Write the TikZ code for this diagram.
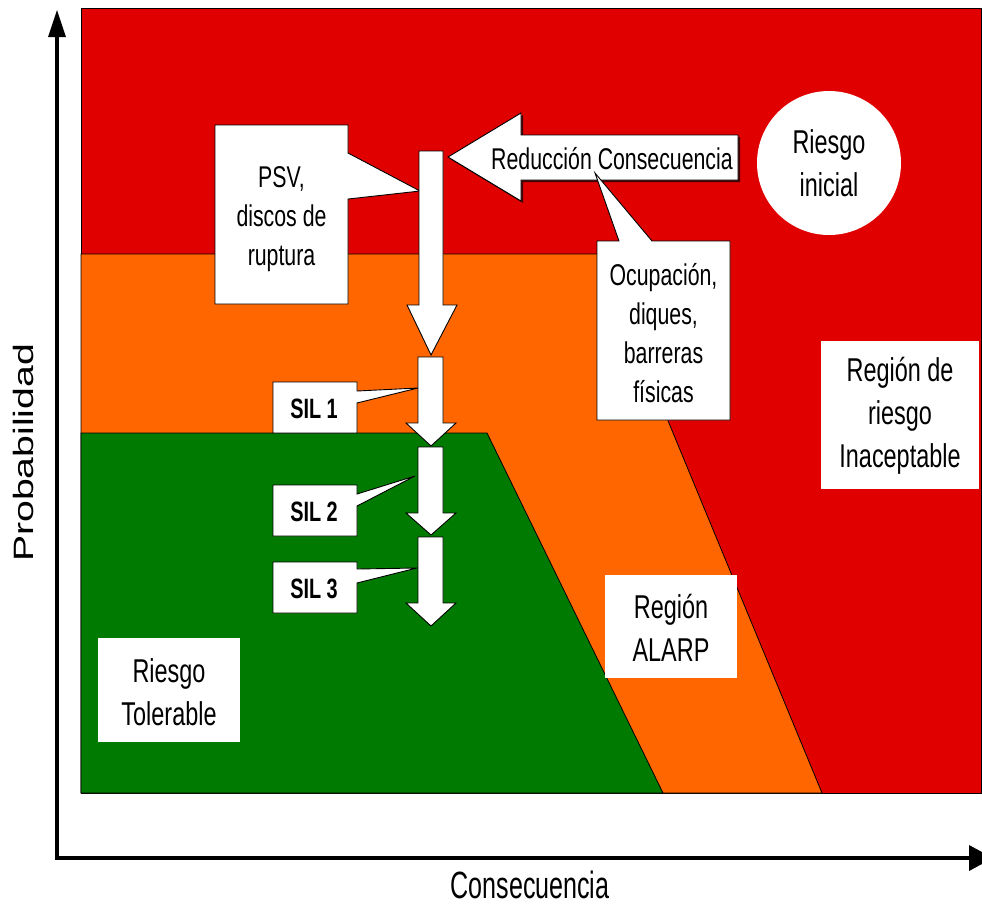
\documentclass[tikz,border=0pt]{standalone}
\usepackage{fontspec}
\setmainfont{Liberation Sans}
\newfontfamily\nar{Liberation Sans}[FakeStretch=0.71]
\newfontfamily\narx{Liberation Sans}[FakeStretch=0.66]
\newfontfamily\wid{Liberation Sans}[FakeStretch=1.4]
\definecolor{rred}{RGB}{224,0,0}
\definecolor{orng}{RGB}{255,102,0}
\definecolor{grn}{RGB}{0,122,0}
\tikzset{
  region/.style={draw=black, line width=0.8pt},
  wbox/.style={fill=white, draw=black, line width=0.9pt, line join=miter},
  bigtxt/.style={font=\nar\fontsize{33}{43}\selectfont, align=center, inner sep=0pt},
  midtxt/.style={font=\nar\fontsize{30}{39}\selectfont, align=center, inner sep=0pt},
  siltxt/.style={font=\nar\bfseries\fontsize{28}{34}\selectfont, inner sep=0pt},
  axis/.style={line width=4pt},
  axhead/.style={fill=black},
}
\begin{document}
\begin{tikzpicture}[x=1pt,y=-1pt]
\useasboundingbox (0,0) rectangle (982,906);
% regions
\fill[rred, region] (81,8) rectangle (981,793);
\fill[orng, region] (81,254) -- (599,254) -- (822,793) -- (81,793) -- cycle;
\fill[grn, region] (81,433) -- (487,433) -- (663,793) -- (81,793) -- cycle;
% axes
\coordinate (o) at (57,858);
\coordinate (ytop) at (57,37);
\coordinate (xend) at (969,858);
\draw[axis] (57,860) -- (ytop);
\draw[axis] (55,858) -- (xend);
\fill[axhead] (48,37) -- (66,37) -- (57,10) -- cycle;
\fill[axhead] (969,845) -- (969,871) -- (993,858) -- cycle;
\node[font=\wid\fontsize{28}{34}\selectfont, rotate=90, anchor=base, inner sep=0pt] (ylab) at (33,453) {Probabilidad};
\node[font=\narx\fontsize{38}{46}\selectfont, anchor=base, inner sep=0pt] (xlab) at (530,898) {Consecuencia};
% initial risk circle
\node[circle, fill=white, minimum size=144pt, inner sep=0pt] (ini) at (829,163) {};
\node[bigtxt] (initxt) at (829,163) {Riesgo\\inicial};
% region labels
\fill[white] (821,341) rectangle (979,489);
\node[bigtxt] (inac) at (900,416) {Región de\\riesgo\\Inaceptable};
\fill[white] (605,575) rectangle (737,678);
\node[bigtxt] (alarp) at (671,628) {Región\\ALARP};
\fill[white] (98,638) rectangle (240,742);
\node[bigtxt] (tol) at (169,692) {Riesgo\\Tolerable};
% PSV callout
\draw[wbox] (215,125) -- (348,125) -- (348,153) -- (420,191) -- (348,199) -- (348,304) -- (215,304) -- cycle;
\node[midtxt] (psv) at (281.5,219) {PSV,\\discos de\\ruptura};
% SIL callouts
\draw[wbox] (273,382) -- (357,382) -- (357,391) -- (418,388) -- (357,403) -- (357,433) -- (273,433) -- cycle;
\draw[wbox] (273,485) -- (357,485) -- (357,494) -- (415,476) -- (357,506) -- (357,536) -- (273,536) -- cycle;
\draw[wbox] (273,562) -- (357,562) -- (357,569) -- (417,568) -- (357,583) -- (357,613) -- (273,613) -- cycle;
\node[siltxt, anchor=base] (sil1) at (314,418) {SIL 1};
\node[siltxt, anchor=base] (sil2) at (314,521) {SIL 2};
\node[siltxt, anchor=base] (sil3) at (314,598) {SIL 3};
% main down arrow
\draw[wbox] (419,151) -- (443,151) -- (443,305) -- (457,305) -- (431,355) -- (407,305) -- (419,305) -- cycle;
% SIL arrows
\draw[wbox] (418,357) -- (443,357) -- (443,423) -- (456,423) -- (431,446) -- (406,423) -- (418,423) -- cycle;
\draw[wbox] (418,447) -- (443,447) -- (443,513) -- (456,513) -- (431,535) -- (406,513) -- (418,513) -- cycle;
\draw[wbox] (418,537) -- (443,537) -- (443,603) -- (456,603) -- (431,626) -- (406,603) -- (418,603) -- cycle;
% consequence reduction arrow
\fill[black!70!rred] (450,159) -- (523,115) -- (523,137) -- (740,137) -- (740,182) -- (523,182) -- (523,203) -- cycle;
\draw[wbox] (448,157) -- (521,113) -- (521,135) -- (738,135) -- (738,180) -- (521,180) -- (521,201) -- cycle;
\node[midtxt, anchor=base] (red) at (612,169) {Reducción Consecuencia};
% Ocupacion callout
\draw[wbox] (597,241) -- (619,241) -- (595,173) -- (652,241) -- (730,241) -- (730,420) -- (597,420) -- cycle;
\node[midtxt] (ocu) at (663.5,333) {Ocupación,\\diques,\\barreras\\físicas};
\end{tikzpicture}
\end{document}
